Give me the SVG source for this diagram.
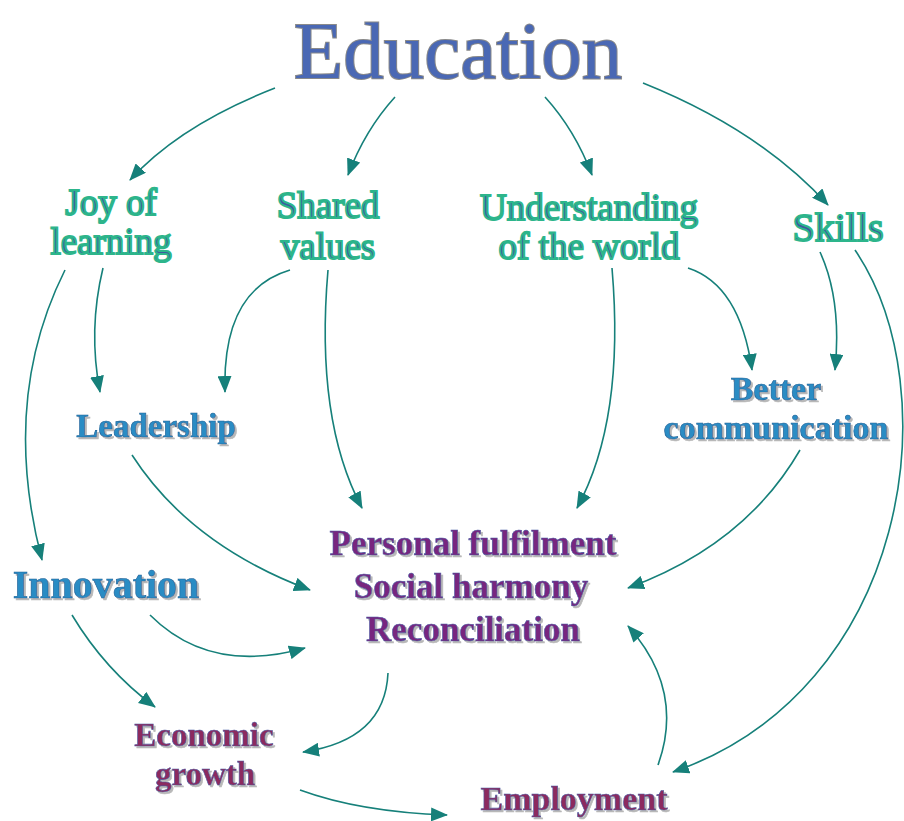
<svg xmlns="http://www.w3.org/2000/svg" width="904" height="821" viewBox="0 0 904 821">
<style>
text{font-family:"Liberation Serif","Times New Roman",serif;text-anchor:middle}
.title{font-size:81px;fill:#4a68b4;stroke:#8a8a8a;stroke-width:2;paint-order:stroke}
.g{font-size:37px;fill:#3d5aa0;stroke:#2db58b;stroke-width:2}
.b{font-size:33px;font-weight:bold;fill:#2b8cc4;stroke:#1f5f94;stroke-width:0.6;filter:url(#shadow)}
.p{font-size:35px;font-weight:bold;fill:#78277f;stroke:#4b5ba3;stroke-width:0.6;filter:url(#shadow)}
.m{font-size:33px;font-weight:bold;fill:#8c2b5e;stroke:#4b5ba3;stroke-width:0.6;filter:url(#shadow)}
.c{fill:none;stroke:#16807a;stroke-width:1.6;marker-end:url(#ah)}
</style>
<defs>
<marker id="ah" markerUnits="userSpaceOnUse" markerWidth="18" markerHeight="14" refX="16" refY="7" orient="auto">
<path d="M0,0 L17,7 L0,14 Z" fill="#16807a"/>
</marker>
<filter id="shadow" x="-10%" y="-20%" width="120%" height="150%">
<feDropShadow dx="2" dy="2" stdDeviation="0.6" flood-color="#b8b8b8" flood-opacity="1"/>
</filter>
</defs>
<g id="connectors">
<path class="c" d="M275,88 Q180,125 130,180"/>
<path class="c" d="M395,97 Q365,130 348,175"/>
<path class="c" d="M545,97 Q575,130 592,175"/>
<path class="c" d="M643,83 Q760,130 828,205"/>
<path class="c" d="M103,268 Q88,330 100,392"/>
<path class="c" d="M65,270 Q0,400 42,560"/>
<path class="c" d="M290,270 Q222,290 225,392"/>
<path class="c" d="M328,270 Q315,420 362,508"/>
<path class="c" d="M612,268 Q625,420 577,508"/>
<path class="c" d="M688,268 Q740,285 752,370"/>
<path class="c" d="M820,252 Q842,300 835,370"/>
<path class="c" d="M855,250 C950,390 910,690 673,772"/>
<path class="c" d="M132,455 Q190,545 310,590"/>
<path class="c" d="M800,450 Q745,545 628,588"/>
<path class="c" d="M150,615 Q210,675 305,648"/>
<path class="c" d="M72,615 Q105,670 155,707"/>
<path class="c" d="M388,673 Q385,740 303,752"/>
<path class="c" d="M658,765 Q685,690 628,626"/>
<path class="c" d="M300,790 Q360,812 447,815"/>
</g>
<g id="education"><text class="title" x="458" y="78">Education</text></g>
<g id="joy"><text class="g" x="111" y="215">Joy of</text><text class="g" x="111" y="254">learning</text></g>
<g id="shared"><text class="g" x="328" y="218">Shared</text><text class="g" x="328" y="259">values</text></g>
<g id="understanding"><text class="g" x="589" y="220">Understanding</text><text class="g" x="589" y="259">of the world</text></g>
<g id="skills"><text class="g" x="838" y="241" style="font-size:40px">Skills</text></g>
<g id="leadership"><text class="b" x="156" y="437">Leadership</text></g>
<g id="better"><text class="b" x="776" y="400" style="font-size:34px">Better</text><text class="b" x="776" y="439" style="font-size:34px">communication</text></g>
<g id="innovation"><text class="b" x="106" y="598" style="font-size:40px">Innovation</text></g>
<g id="personal">
<text class="p" x="473" y="555">Personal fulfilment</text>
<text class="p" x="471" y="598">Social harmony</text>
<text class="p" x="473" y="641">Reconciliation</text>
</g>
<g id="economic"><text class="m" x="204" y="746">Economic</text><text class="m" x="205" y="785">growth</text></g>
<g id="employment"><text class="m" x="574" y="810" style="font-size:34px">Employment</text></g>
</svg>
